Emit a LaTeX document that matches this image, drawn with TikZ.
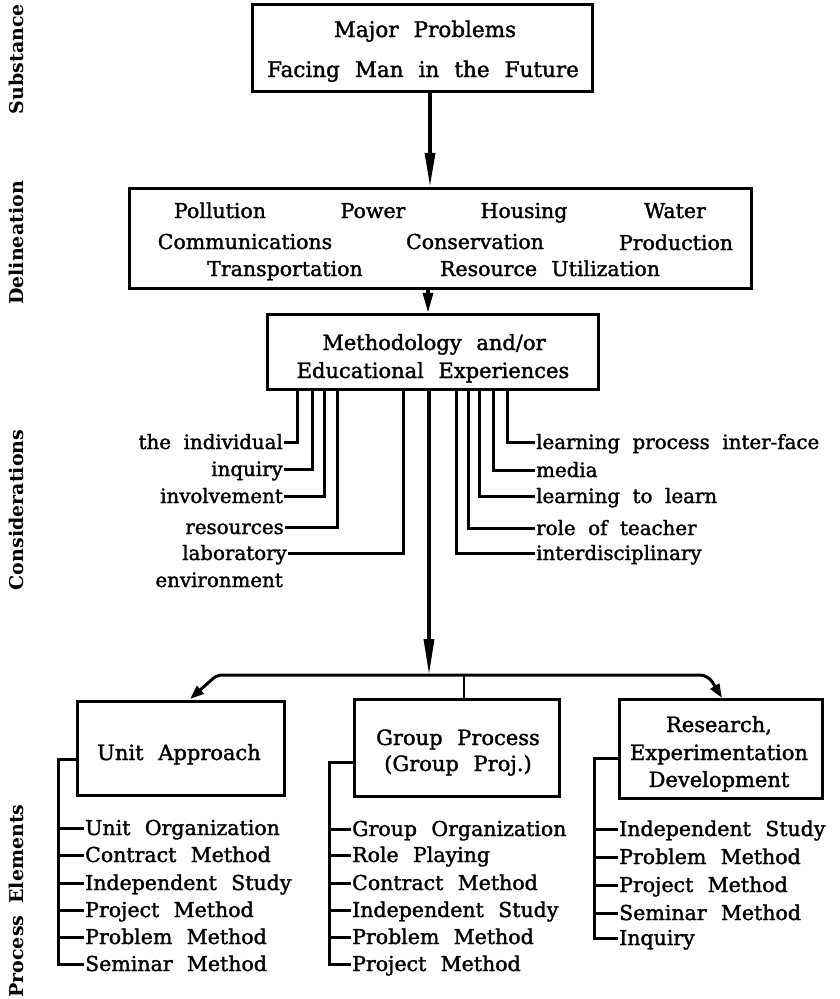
\documentclass[tikz,border=0pt]{standalone}
\usepackage{fontspec}
\setmainfont{DejaVu Serif}[WordSpace=2.2, FakeBold=1.6]
\newfontfamily\consfont{DejaVu Serif}[WordSpace=2.0, FakeBold=1.6]
\newfontfamily\sidefont{DejaVu Serif}[WordSpace=1.8]
\usetikzlibrary{arrows.meta}

\begin{document}
\begin{tikzpicture}[x=1pt,y=-1pt,
  box/.style={draw, line width=3.4pt, inner sep=0pt},
  btxt/.style={font=\fontsize{21}{25}\selectfont, inner sep=0pt, anchor=base},
  dtxt/.style={font=\fontsize{20.5}{25}\selectfont, inner sep=0pt, anchor=base},
  link/.style={line width=3pt},
  thin link/.style={line width=2pt},
  arr/.style={line width=3.4pt, -{Triangle[length=#1,width=10pt]}},
  item/.style={font=\fontsize{20.5}{24}\selectfont, anchor=west, inner sep=1pt,
               text height=14pt, text depth=0pt},
  consl/.style={font=\consfont\fontsize{19.8}{23}\selectfont, anchor=east, inner sep=1pt,
               text height=14pt, text depth=0pt},
  consr/.style={font=\consfont\fontsize{19.8}{23}\selectfont, anchor=west, inner sep=1pt,
               text height=14pt, text depth=0pt},
  side/.style={font=\sidefont\bfseries\fontsize{19}{22}\selectfont, rotate=90, inner sep=0pt}]

\useasboundingbox (0,0) rectangle (840,999);

% ---- level captions along the left edge
\node[side] (capA) at (16,59)  {Substance};
\node[side] (capB) at (16,243) {Delineation};
\node[side] (capC) at (16,510) {Considerations};
\node[side] (capD) at (16,901) {Process Elements};

% ---- main boxes
\node[box, minimum width=340pt, minimum height=87pt]  (top)   at (422.5,48)  {};
\node[box, minimum width=622pt, minimum height=100pt] (delin) at (440.5,238.5) {};
\node[box, minimum width=331pt, minimum height=75pt]  (meth)  at (433,352)   {};
\node[box, minimum width=207pt, minimum height=94pt]  (unit)  at (181,748.5) {};
\node[box, minimum width=205pt, minimum height=97pt]  (group) at (457,748)   {};
\node[box, minimum width=203pt, minimum height=99pt]  (res)   at (721,749)   {};

% ---- box texts
\node[btxt, font=\fontsize{21.5}{25}\selectfont] (t1) at (425,37) {Major Problems};
\node[btxt, font=\fontsize{21.5}{25}\selectfont] (t2) at (423,77) {Facing Man in the Future};

\node[dtxt] (d1) at (220,218) {Pollution};
\node[dtxt] (d2) at (373,218) {Power};
\node[dtxt] (d3) at (524,218) {Housing};
\node[dtxt] (d4) at (675,218) {Water};
\node[dtxt] (d5) at (245,249) {Communications};
\node[dtxt] (d6) at (475,249) {Conservation};
\node[dtxt] (d7) at (676,250) {Production};
\node[dtxt] (d8) at (285,276) {Transportation};
\node[dtxt] (d9) at (550,276) {Resource Utilization};

\node[btxt] (m1) at (434,350) {Methodology and/or};
\node[btxt] (m2) at (433,378) {Educational Experiences};

\node[btxt] (u1) at (179,760) {Unit Approach};
\node[btxt] (g1) at (458,745) {Group Process};
\node[btxt] (g2) at (458,771) {(Group Proj.)};
\node[btxt] (r1) at (719,732) {Research,};
\node[btxt] (r2) at (719,760) {Experimentation};
\node[btxt] (r3) at (719,787) {Development};

% ---- vertical flow
\coordinate (ax) at (430,0);
\coordinate (bx) at (428,0);
\coordinate (sx) at (429,0);
\draw[arr=34pt] (top.south -| ax) -- (delin.north -| ax);
\draw[arr=20pt] (delin.south -| bx) -- (meth.north -| bx);
\coordinate (hub) at (429,675);
\draw[arr=36pt] (meth.south -| sx) -- (hub);

% ---- distribution bar to the three process boxes
\coordinate (bl) at (217,675);
\coordinate (br) at (708,675);
\coordinate (ut) at (190,699);
\coordinate (rt) at (722,698);
\coordinate (gx) at (464,675);
\draw[line width=3pt, rounded corners=5pt, -{Triangle[length=14pt,width=10pt]}] (hub) -- (bl) -- (ut);
\draw[line width=3pt, rounded corners=8pt, -{Triangle[length=14pt,width=10pt]}] (hub) -- (br) -- (rt);
\draw[thin link] (gx) -- (group.north -| gx);

% ---- considerations, left side
\node[consl] (c1) at (284,442) {the individual};
\node[consl] (c2) at (284,469) {inquiry};
\node[consl] (c3) at (284,496) {involvement};
\node[consl] (c4) at (285,527) {resources};
\node[consl] (c5) at (288,553) {laboratory};
\node[consl] (c6) at (284,580) {environment};
\coordinate (v1) at (297,0);
\coordinate (v2) at (312,0);
\coordinate (v3) at (324,0);
\coordinate (v4) at (337,0);
\coordinate (v5) at (403,0);
\draw[link] (meth.south -| v1) |- (c1.east);
\draw[link] (meth.south -| v2) |- (c2.east);
\draw[link] (meth.south -| v3) |- (c3.east);
\draw[link] (meth.south -| v4) |- (c4.east);
\draw[link] (meth.south -| v5) |- (c5.east);

% ---- considerations, right side
\node[consr] (k1) at (535,442) {learning process inter-face};
\node[consr] (k2) at (535,470) {media};
\node[consr] (k3) at (535,496) {learning to learn};
\node[consr] (k4) at (535,528) {role of teacher};
\node[consr] (k5) at (535,553) {interdisciplinary};
\coordinate (w1) at (507,0);
\coordinate (w2) at (493,0);
\coordinate (w3) at (479,0);
\coordinate (w4) at (468,0);
\coordinate (w5) at (456,0);
\draw[link] (meth.south -| w1) |- (k1.west);
\draw[link] (meth.south -| w2) |- (k2.west);
\draw[link] (meth.south -| w3) |- (k3.west);
\draw[link] (meth.south -| w4) |- (k4.west);
\draw[link] (meth.south -| w5) |- (k5.west);

% ---- process elements: unit approach
\node[item] (ua) at (84,828) {Unit Organization};
\node[item] (ub) at (84,855) {Contract Method};
\node[item] (uc) at (84,883) {Independent Study};
\node[item] (ud) at (84,910) {Project Method};
\node[item] (ue) at (84,937) {Problem Method};
\node[item] (uf) at (84,964) {Seminar Method};
\coordinate (uj) at (58,759);
\draw[link] (unit.west |- uj) -- (uj) |- (uf.west);
\foreach \n in {ua,ub,uc,ud,ue} \draw[link] (uj |- \n.west) -- (\n.west);

% ---- process elements: group process
\node[item] (ga) at (351,829) {Group Organization};
\node[item] (gb) at (351,855) {Role Playing};
\node[item] (gc) at (351,883) {Contract Method};
\node[item] (gd) at (351,910) {Independent Study};
\node[item] (ge) at (351,937) {Problem Method};
\node[item] (gf) at (351,964) {Project Method};
\coordinate (gj) at (329,762);
\draw[link] (group.west |- gj) -- (gj) |- (gf.west);
\foreach \n in {ga,gb,gc,gd,ge} \draw[link] (gj |- \n.west) -- (\n.west);

% ---- process elements: research
\node[item] (ra) at (618,829) {Independent Study};
\node[item] (rb) at (618,857) {Problem Method};
\node[item] (rc) at (618,885) {Project Method};
\node[item] (rd) at (618,913) {Seminar Method};
\node[item] (re) at (618,938) {Inquiry};
\coordinate (rj) at (594,758);
\draw[link] (res.west |- rj) -- (rj) |- (re.west);
\foreach \n in {ra,rb,rc,rd} \draw[link] (rj |- \n.west) -- (\n.west);

\end{tikzpicture}
\end{document}
